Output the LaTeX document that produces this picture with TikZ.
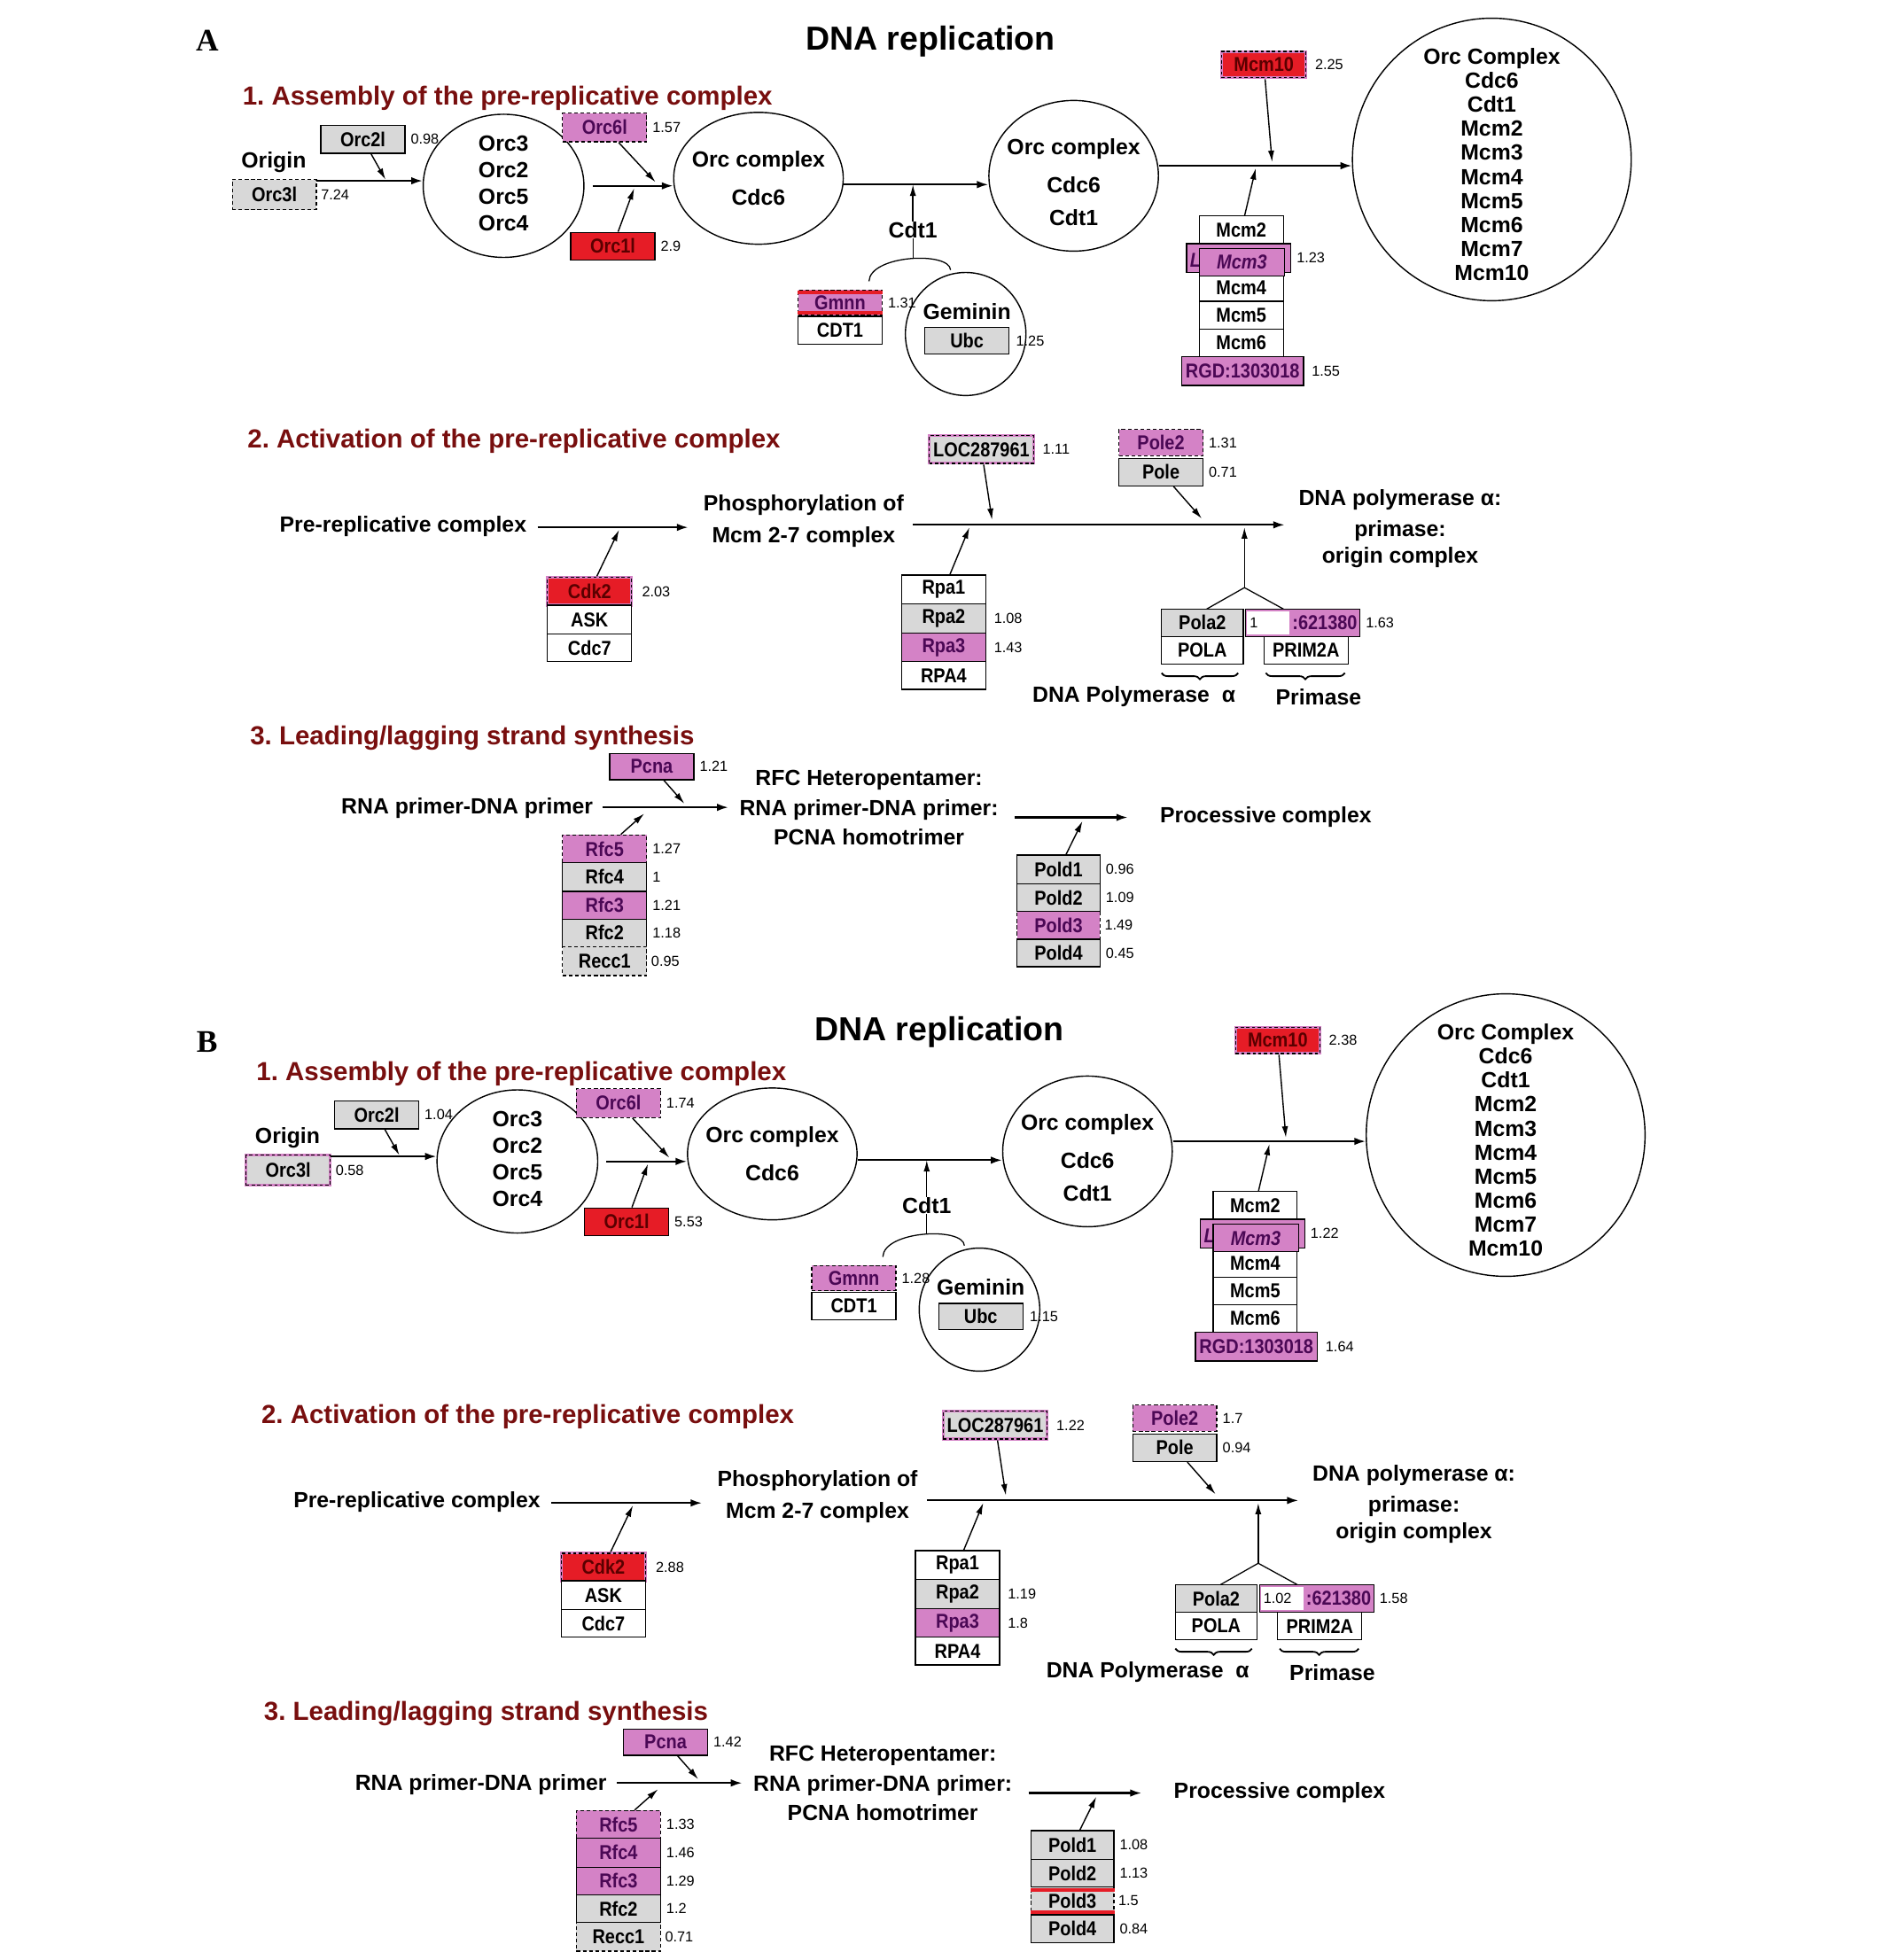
\documentclass[tikz,border=0pt]{standalone}
\usepackage{fontspec}
\setmainfont{Liberation Sans}
\newfontfamily\LabelSerif{Liberation Serif}
\newfontfamily\GeneFont[FakeStretch=0.88]{Liberation Sans}
\usetikzlibrary{arrows.meta,shapes.geometric,decorations.pathreplacing}
\frenchspacing
\definecolor{pinkc}{RGB}{212,130,198}
\definecolor{redc}{RGB}{230,28,38}
\definecolor{grayc}{RGB}{216,216,216}
\definecolor{headc}{RGB}{120,14,14}
\definecolor{ptext}{RGB}{75,8,85}
\definecolor{rtext}{RGB}{90,0,0}
\newcommand\Fmain{\bfseries\fontsize{17.5}{21}\selectfont}
\newcommand\Fbig{\bfseries\fontsize{17.5}{19.1}\selectfont}
\newcommand\Fgene{\GeneFont\bfseries\fontsize{16}{17}\selectfont}
\newcommand\Fval{\fontsize{11.5}{12}\selectfont}
\newcommand\Fhead{\bfseries\fontsize{20.8}{24}\selectfont}
\newcommand\Ftitle{\bfseries\fontsize{26.5}{30}\selectfont}
\newcommand\GV[3][4]{\node[val] (v#2) at ([xshift=#1pt]#2.east) {#3};}
\tikzset{
  lab/.style={font=\Fmain, inner sep=0pt, align=center},
  head/.style={font=\Fhead, text=headc, anchor=west, inner sep=0pt},
  gbox/.style={draw, line width=0.9pt, inner sep=0pt, minimum width=67pt, minimum height=22pt, font=\Fgene},
  gW/.style={gbox, fill=white},
  gG/.style={gbox, fill=grayc},
  gGd/.style={gG, dash pattern=on 3pt off 2pt},
  gP/.style={gbox, fill=pinkc, text=ptext},
  gPd/.style={gP, dash pattern=on 3pt off 2pt},
  gR/.style={gbox, fill=redc, text=rtext},
  pdash/.style={draw=pinkc, line width=2.2pt, postaction={draw=black, line width=0.9pt, dash pattern=on 2.5pt off 2pt}},
  gRp/.style={gR, pdash},
  gGp/.style={gG, pdash},
  val/.style={font=\Fval, anchor=west, inner sep=0pt},
  flow/.style={line width=1.5pt, -{Latex[length=9pt,width=6pt]}},
  reg/.style={line width=1pt, -{Latex[length=9pt,width=5pt]}},
  thinline/.style={line width=0.9pt},
  oval/.style={ellipse, draw, line width=1pt, inner sep=0pt},
  brace/.style={decorate, decoration={brace, mirror, amplitude=5pt}, line width=1.3pt}
}
\newcommand\DrawPanel{%
% ---------- section 1
\node[head] (h1) at (193,78) {1. Assembly of the pre-replicative complex};
\node[lab] (origin) at (218,129) {Origin};
\node[orcIIIsty, minimum height=24pt] (orc3) at (218.5,155) {Orc3l};
\GV[3]{orc3}{\VoA}
\node[gG] (orc2) at (289,111) {Orc2l};
\GV{orc2}{\VoB}
\node[oval, minimum width=128pt, minimum height=114pt] (e1) at (401,148) {};
\node[lab] (e1t) at (401,146) {Orc3\\Orc2\\Orc5\\Orc4};
\coordinate (l1s) at (252,144);
\coordinate (j1) at (307,143);
\draw[flow] (l1s) -- (l1s -| e1.west);
\draw[reg] (orc2) -- (j1);
\node[gPd, minimum height=23pt] (orc6) at (481.5,101.5) {Orc6l};
\GV{orc6}{\VoC}
\node[gR] (orc1) at (488,196) {Orc1l};
\GV{orc1}{\VoD}
\node[oval, minimum width=135pt, minimum height=105pt] (e2) at (604,142) {};
\node[lab] (e2t) at (604,142) {Orc complex\\[9pt]Cdc6};
\coordinate (l2s) at (472,148);
\coordinate (j2) at (522,145);
\coordinate (j3) at (505,150);
\draw[flow] (l2s) -- (l2s -| e2.west);
\draw[reg] (orc6) -- (j2);
\draw[reg] (orc1) -- (j3);
\node[oval, minimum width=135pt, minimum height=120pt] (e3) at (855,140) {};
\node[lab] (e3t) at (855,145) {Orc complex\\[9pt]Cdc6\\[5pt]Cdt1};
\coordinate (l3s) at (672,147);
\draw[flow] (l3s) -- (l3s -| e3.west);
\node[lab] (cdt1) at (727,183) {Cdt1};
\draw[reg] (cdt1) -- (cdt1 |- l3s);
\coordinate (arcT) at (727,206);
\coordinate (arcL) at (692,224);
\coordinate (arcR) at (757,215);
\draw[thinline] (cdt1) -- (arcT);
\draw[thinline] (arcL) .. controls (693,203) and (756,200) .. (arcR);
\node[gmnnsty, minimum height=20pt] (gmnn) at (669,241) {Gmnn};
\GV{gmnn}{\Vgmnn}
\node[gW] (cdtb) at (669,263) {CDT1};
\GmnnExtra
\node[oval, minimum width=96pt, minimum height=98pt] (gem) at (769,266) {};
\node[lab] (gemt) at (770,248) {Geminin};
\node[gG, minimum height=21pt] (ubc) at (770,271.5) {Ubc};
\GV[5]{ubc}{\Vubc}
\node[oval, minimum width=222pt, minimum height=225pt] (big) at (1188,127) {};
\node[lab, font=\Fbig] (bigt) at (1188,131) {Orc Complex\\Cdc6\\Cdt1\\Mcm2\\Mcm3\\Mcm4\\Mcm5\\Mcm6\\Mcm7\\Mcm10};
\coordinate (l4s) at (923,132);
\draw[flow] (l4s) -- (l4s -| big.west);
\node[gRp, minimum height=21pt] (mcm10) at (1006.5,51.5) {Mcm10};
\GV[6]{mcm10}{\Vmten}
\coordinate (j4) at (1013,129);
\draw[reg] (mcm10) -- (j4);
\node[gW] (mcm2) at (988.5,183) {Mcm2};
\node[gW] (mcm4) at (988.5,229) {Mcm4};
\node[gW] (mcm5) at (988.5,251) {Mcm5};
\node[gW] (mcm6) at (988.5,273) {Mcm6};
\node[gP, minimum width=83pt, minimum height=23pt] (mcmb) at (986.5,205.5) {};
\node[font=\Fgene\itshape, text=ptext, anchor=west, inner sep=0pt] (mcmL) at (947.5,207) {L};
\node[gP, minimum width=68pt, minimum height=22pt, font=\Fgene\itshape] (mcm3) at (989,209) {Mcm3};
\GV[4]{mcmb}{\Vmthree}
\node[gP, minimum width=97pt, minimum height=23pt] (rgd) at (989.5,295.5) {RGD:1303018};
\GV[6]{rgd}{\Vrgd}
\coordinate (j5) at (1000,134);
\draw[reg] (mcm2) -- (j5);
% ---------- section 2
\node[head] (h2) at (197,351) {2. Activation of the pre-replicative complex};
\node[lab] (prc) at (321,419) {Pre-replicative complex};
\node[lab] (phos) at (640,415) {Phosphorylation of\\[4pt]Mcm 2-7 complex};
\coordinate (p1s) at (428,420);
\coordinate (p1e) at (548,420);
\draw[flow] (p1s) -- (p1e);
\node[gRp] (cdk2) at (469.5,471) {Cdk2};
\GV[7]{cdk2}{\Vcdk}
\node[gW, minimum height=23pt] (ask) at (469.5,493.5) {ASK};
\node[gW] (cdc7) at (469.5,516) {Cdc7};
\coordinate (j6) at (493,422);
\draw[reg] (cdk2) -- (j6);
\coordinate (p2s) at (727,418);
\coordinate (p2e) at (1023,418);
\draw[flow] (p2s) -- (p2e);
\node[gGp, minimum width=83pt] (loc) at (781.5,358) {LOC287961};
\GV[6]{loc}{\Vloc}
\coordinate (j7) at (790,414);
\draw[reg] (loc) -- (j7);
\node[gW, minimum height=23pt] (rpa1) at (751.5,469.5) {Rpa1};
\node[gG, minimum height=23pt] (rpa2) at (751.5,492.5) {Rpa2};
\GV[6]{rpa2}{\Vrpab}
\node[gP, minimum height=23pt] (rpa3) at (751.5,515.5) {Rpa3};
\GV[6]{rpa3}{\Vrpac}
\node[gW] (rpa4) at (751.5,538) {RPA4};
\coordinate (j8) at (772,420);
\draw[reg] (rpa1) -- (j8);
\node[gPd, minimum height=21pt] (pole2) at (924.5,352.5) {Pole2};
\GV{pole2}{\Vpoleb}
\node[gG] (pole) at (924.5,376) {Pole};
\GV{pole}{\Vpole}
\coordinate (j9) at (957,413);
\draw[reg] (pole) -- (j9);
\coordinate (fork) at (991,468);
\coordinate (j10) at (991,420);
\coordinate (fkL) at (961,485);
\coordinate (fkR) at (1022,485);
\draw[reg] (fork) -- (j10);
\draw[thinline] (fkL) -- (fork) -- (fkR);
\node[gG, minimum width=65pt] (pola2) at (957.5,496) {Pola2};
\node[gW, minimum width=65pt] (pola) at (957.5,518) {POLA};
\node[gP, minimum width=91pt] (prim) at (1037.5,496) {};
\node[fill=white, inner sep=0pt, minimum width=34pt, minimum height=18pt] (patch) at (1010,496) {};
\node[val] (patcht) at (995,496) {\Vpatch};
\node[font=\Fgene, text=ptext, inner sep=0pt] (primt) at (1055,496) {:621380};
\GV{prim}{\Vprim}
\node[gW] (prima) at (1040,518) {PRIM2A};
\coordinate (brA1) at (925,536);
\coordinate (brA2) at (986,536);
\coordinate (brB1) at (1008,536);
\coordinate (brB2) at (1071,536);
\draw[brace] (brA1) -- (brA2);
\draw[brace] (brB1) -- (brB2);
\node[lab] (dpa) at (903,555) {DNA Polymerase~~α};
\node[lab] (prims) at (1050,555) {Primase};
\node[lab] (dpo) at (1115,421) {DNA polymerase α:\\[4pt]primase:\\origin complex};
% ---------- section 3
\node[head] (h3) at (199,588) {3. Leading/lagging strand synthesis};
\node[gP, minimum height=21pt] (pcna) at (519,610.5) {Pcna};
\GV{pcna}{\Vpcna}
\node[lab] (rna) at (372,644) {RNA primer-DNA primer};
\coordinate (q1s) at (480,643);
\coordinate (q1e) at (580,643);
\draw[flow] (q1s) -- (q1e);
\node[lab] (rfc) at (692,643) {RFC Heteropentamer:\\[3pt]RNA primer-DNA primer:\\[2pt]PCNA homotrimer};
\node[gPd] (rfc5) at (481.5,676) {Rfc5};
\GV{rfc5}{\Vrfce}
\node[rfcfoursty, minimum height=23pt] (rfc4) at (481.5,698.5) {Rfc4};
\GV{rfc4}{\Vrfcd}
\node[gP] (rfc3) at (481.5,721) {Rfc3};
\GV{rfc3}{\Vrfcc}
\node[gG] (rfc2) at (481.5,743) {Rfc2};
\GV{rfc2}{\Vrfcb}
\node[gGd, minimum height=23pt] (recc1) at (481.5,765.5) {Recc1};
\GV[3]{recc1}{\Vrecc}
\coordinate (j11) at (545,640);
\coordinate (j12) at (513,648);
\draw[reg] (pcna) -- (j11);
\draw[reg] (rfc5) -- (j12);
\coordinate (q2s) at (808,651);
\coordinate (q2e) at (898,651);
\draw[flow] (q2s) -- (q2e);
\node[lab] (proc) at (1008,651) {Processive complex};
\node[gG, minimum width=66pt, minimum height=23pt] (pold1) at (843,692.5) {Pold1};
\GV{pold1}{\Vpolda}
\node[gG, minimum width=66pt] (pold2) at (843,715) {Pold2};
\GV{pold2}{\Vpoldb}
\node[poldthreesty, minimum width=66pt] (pold3) at (843,737) {Pold3};
\GV[3]{pold3}{\Vpoldc}
\node[gG, minimum width=66pt] (pold4) at (843,759) {Pold4};
\GV{pold4}{\Vpoldd}
\PoldExtra
\coordinate (j13) at (862,654);
\draw[reg] (pold1) -- (j13);
}
\begin{document}
\begin{tikzpicture}[x=1pt,y=-1pt]
\useasboundingbox (0,0) rectangle (1500,1561);
\fill[white] (0,0) rectangle (1500,1561);
\node[font=\LabelSerif\bfseries\fontsize{25}{28}\selectfont, inner sep=0pt] (labA) at (165,32) {A};
\node[font=\LabelSerif\bfseries\fontsize{25}{28}\selectfont, inner sep=0pt] (labB) at (165,830) {B};
\node[font=\Ftitle, inner sep=0pt] (titA) at (741,33) {DNA replication};
\node[font=\Ftitle, inner sep=0pt] (titB) at (748,822) {DNA replication};
\begin{scope}[name prefix=A-]
\def\VoA{7.24}\def\VoB{0.98}\def\VoC{1.57}\def\VoD{2.9}
\def\Vgmnn{1.31}\def\Vubc{1.25}\def\Vmten{2.25}\def\Vmthree{1.23}\def\Vrgd{1.55}
\def\Vcdk{2.03}\def\Vloc{1.11}\def\Vrpab{1.08}\def\Vrpac{1.43}
\def\Vpoleb{1.31}\def\Vpole{0.71}\def\Vpatch{1}\def\Vprim{1.63}
\def\Vpcna{1.21}\def\Vrfce{1.27}\def\Vrfcd{1}\def\Vrfcc{1.21}\def\Vrfcb{1.18}\def\Vrecc{0.95}
\def\Vpolda{0.96}\def\Vpoldb{1.09}\def\Vpoldc{1.49}\def\Vpoldd{0.45}
\tikzset{orcIIIsty/.style={gGd}, gmnnsty/.style={gPd}, rfcfoursty/.style={gG}, poldthreesty/.style={gPd}}
\def\GmnnExtra{\fill[redc] ([yshift=-1pt]gmnn.north west) rectangle ([yshift=-4pt]gmnn.north east);
  \fill[redc] ([yshift=1pt]gmnn.south west) rectangle ([yshift=4pt]gmnn.south east);}
\def\PoldExtra{}
\DrawPanel
\end{scope}
\begin{scope}[name prefix=B-, shift={(11,777)}]
\def\VoA{0.58}\def\VoB{1.04}\def\VoC{1.74}\def\VoD{5.53}
\def\Vgmnn{1.28}\def\Vubc{1.15}\def\Vmten{2.38}\def\Vmthree{1.22}\def\Vrgd{1.64}
\def\Vcdk{2.88}\def\Vloc{1.22}\def\Vrpab{1.19}\def\Vrpac{1.8}
\def\Vpoleb{1.7}\def\Vpole{0.94}\def\Vpatch{1.02}\def\Vprim{1.58}
\def\Vpcna{1.42}\def\Vrfce{1.33}\def\Vrfcd{1.46}\def\Vrfcc{1.29}\def\Vrfcb{1.2}\def\Vrecc{0.71}
\def\Vpolda{1.08}\def\Vpoldb{1.13}\def\Vpoldc{1.5}\def\Vpoldd{0.84}
\tikzset{orcIIIsty/.style={gGp}, gmnnsty/.style={gPd}, rfcfoursty/.style={gP}, poldthreesty/.style={gGd}}
\def\GmnnExtra{}
\def\PoldExtra{\fill[redc] ([yshift=-1pt]pold3.north west) rectangle ([yshift=-4pt]pold3.north east);
  \fill[redc] ([yshift=1pt]pold3.south west) rectangle ([yshift=4pt]pold3.south east);}
\DrawPanel
\end{scope}
\end{tikzpicture}
\end{document}
